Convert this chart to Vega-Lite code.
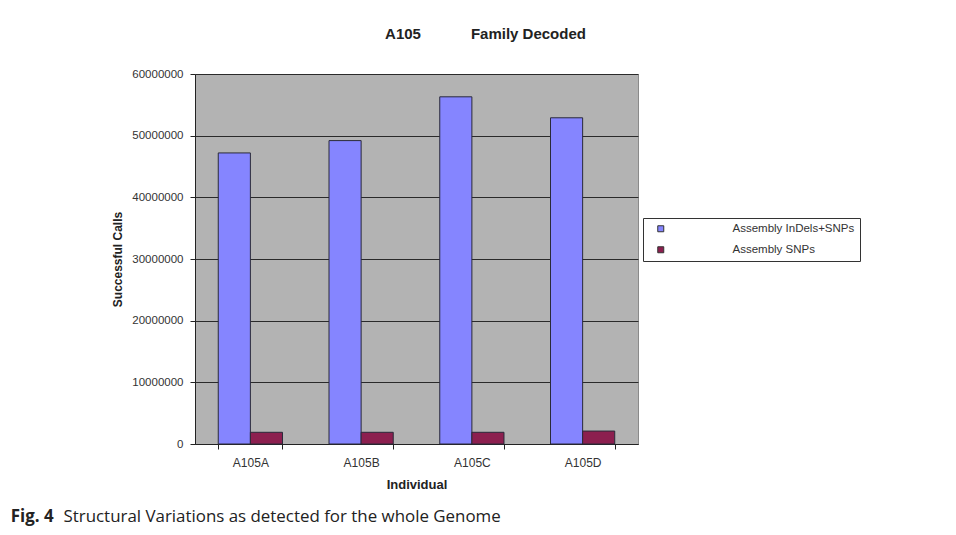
{
  "$schema": "https://vega.github.io/schema/vega-lite/v6.json",
  "width": 443,
  "height": 370,
  "autosize": {"type": "none"},
  "padding": {"left": 195, "top": 74, "right": 318, "bottom": 91},
  "background": "white",
  "title": {
    "text": "Fig. 4",
    "subtitle": "\u200b\u00a0\u00a0\u00a0\u00a0\u00a0\u00a0\u00a0\u00a0\u00a0\u00a0\u00a0\u00a0Structural Variations as detected for the whole Genome",
    "orient": "bottom",
    "anchor": "start",
    "frame": "bounds",
    "dx": -101,
    "offset": 18,
    "font": "Open Sans",
    "fontSize": 16.9,
    "fontWeight": "bold",
    "color": "#222",
    "subtitleFont": "Open Sans",
    "subtitleFontSize": 16.9,
    "subtitleFontWeight": "normal",
    "subtitleColor": "#222",
    "subtitlePadding": -16.9
  },
  "data": {
    "values": [
      {"individual": "A105A", "series": "Assembly InDels+SNPs", "calls": 47200000},
      {"individual": "A105A", "series": "Assembly SNPs", "calls": 1900000},
      {"individual": "A105B", "series": "Assembly InDels+SNPs", "calls": 49200000},
      {"individual": "A105B", "series": "Assembly SNPs", "calls": 1900000},
      {"individual": "A105C", "series": "Assembly InDels+SNPs", "calls": 56300000},
      {"individual": "A105C", "series": "Assembly SNPs", "calls": 1900000},
      {"individual": "A105D", "series": "Assembly InDels+SNPs", "calls": 52900000},
      {"individual": "A105D", "series": "Assembly SNPs", "calls": 2100000}
    ]
  },
  "layer": [
    {
      "mark": {"type": "bar", "stroke": "#2a2a3a", "strokeWidth": 1},
      "encoding": {
        "x": {
          "field": "individual",
          "type": "nominal",
          "scale": {"paddingInner": 0.42, "paddingOuter": 0.21},
          "axis": {
            "orient": "bottom",
            "title": "Individual",
            "labelAngle": 0,
            "tickBand": "extent",
            "ticks": true,
            "tickSize": 5,
            "tickColor": "#222",
            "domainColor": "#222",
            "labelPadding": 8,
            "labelFont": "Liberation Sans",
            "labelFontSize": 12,
            "labelColor": "#333",
            "titleFont": "Liberation Sans",
            "titleFontSize": 13,
            "titleFontWeight": "bold",
            "titleColor": "#222",
            "titlePadding": 10,
            "grid": false
          }
        },
        "xOffset": {
          "field": "series",
          "sort": ["Assembly InDels+SNPs", "Assembly SNPs"],
          "scale": {"paddingInner": 0, "paddingOuter": 0}
        },
        "y": {
          "field": "calls",
          "type": "quantitative",
          "scale": {"domain": [0, 60000000], "nice": false},
          "axis": {
            "title": "Successful Calls",
            "values": [0, 10000000, 20000000, 30000000, 40000000, 50000000, 60000000],
            "format": "d",
            "grid": true,
            "gridColor": "#2a2a2a",
            "gridWidth": 1,
            "gridOpacity": 1,
            "tickSize": 5,
            "tickColor": "#222",
            "domainColor": "#222",
            "labelPadding": 7,
            "labelFont": "Liberation Sans",
            "labelFontSize": 11.5,
            "labelColor": "#333",
            "titleFont": "Liberation Sans",
            "titleFontSize": 12,
            "titleFontWeight": "bold",
            "titleColor": "#222",
            "titlePadding": 7
          }
        },
        "color": {
          "field": "series",
          "type": "nominal",
          "scale": {
            "domain": ["Assembly InDels+SNPs", "Assembly SNPs"],
            "range": ["#8585FF", "#8C1F4F"]
          },
          "legend": {
            "title": null,
            "orient": "none",
            "legendX": 448,
            "legendY": 144,
            "direction": "vertical",
            "strokeColor": "#333",
            "fillColor": "white",
            "padding": 5,
            "symbolType": "square",
            "symbolSize": 36,
            "symbolStrokeColor": "#333",
            "symbolStrokeWidth": 1,
            "symbolOffset": 7,
            "labelOffset": 66,
            "labelFont": "Liberation Sans",
            "labelFontSize": 11.5,
            "labelColor": "#333",
            "rowPadding": 8
          }
        }
      }
    },
    {
      "mark": {"type": "bar", "opacity": 0},
      "encoding": {
        "x": {
          "field": "individual",
          "type": "nominal",
          "axis": {
            "orient": "top",
            "labels": false,
            "ticks": false,
            "domain": false,
            "grid": false,
            "title": "A105\u00a0\u00a0\u00a0\u00a0\u00a0\u00a0\u00a0\u00a0\u00a0\u00a0\u00a0\u00a0Family Decoded",
            "titleFont": "Liberation Sans",
            "titleFontSize": 15,
            "titleFontWeight": "bold",
            "titleColor": "#222",
            "titleX": 290,
            "titleY": -36,
            "titleAlign": "center",
            "titleBaseline": "alphabetic"
          }
        }
      }
    }
  ],
  "resolve": {"axis": {"x": "independent"}},
  "config": {
    "view": {"fill": "#B3B3B3", "stroke": "#8a8a8a", "strokeWidth": 1},
    "axis": {"domainWidth": 1, "tickWidth": 1}
  }
}
